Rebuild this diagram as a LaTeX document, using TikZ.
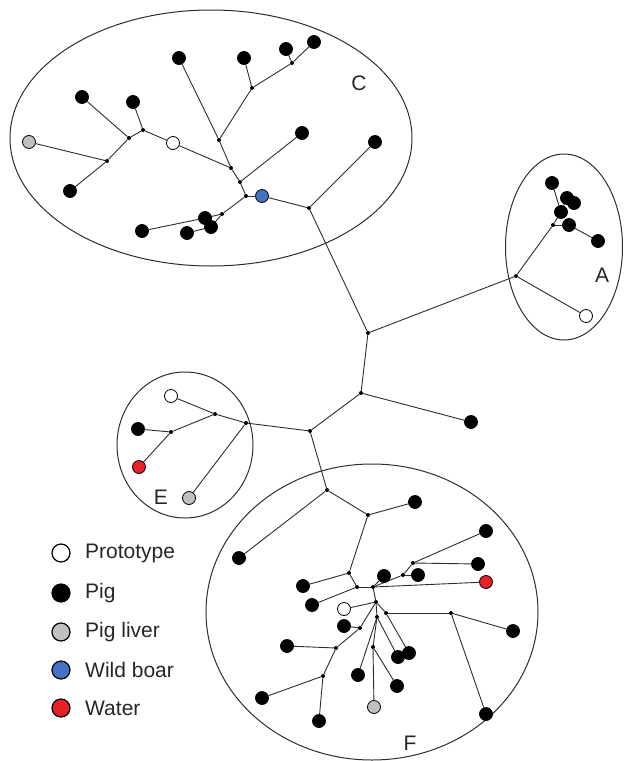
\documentclass[tikz,border=0pt]{standalone}
\usepackage{fontspec}
\setmainfont{Liberation Sans}
\usetikzlibrary{shapes.geometric,backgrounds}
\definecolor{boarblue}{RGB}{68,114,196}
\definecolor{waterred}{RGB}{232,32,40}
\definecolor{livergray}{RGB}{192,192,192}
\definecolor{linegray}{RGB}{45,45,45}
\begin{document}
\begin{tikzpicture}[x=1pt,y=-1pt,
  leaf/.style={circle,draw=black,line width=0.8pt,inner sep=0pt,minimum size=13pt,fill=black},
  proto/.style={leaf,fill=white},
  liver/.style={leaf,fill=livergray},
  boar/.style={leaf,fill=boarblue},
  water/.style={leaf,fill=waterred},
  hub/.style={circle,fill=black,inner sep=0pt,minimum size=4pt},
  edge/.style={draw=linegray,line width=0.9pt},
  group/.style={draw=linegray,line width=1pt,ellipse,inner sep=0pt},
  tag/.style={font=\fontsize{21}{24}\selectfont,text=black!85,inner sep=0pt},
  keyleaf/.style={leaf,minimum size=18pt,line width=1.2pt}]
\useasboundingbox (0,0) rectangle (624,761);

% cluster outlines
\node[group,minimum width=402pt,minimum height=256pt] (gC) at (211,138) {};
\node[group,minimum width=117pt,minimum height=186pt] (gA) at (564,247) {};
\node[group,minimum width=136pt,minimum height=146pt] (gE) at (185,445) {};
\node[group,minimum width=332pt,minimum height=296pt] (gF) at (372,612) {};

% cluster C
\node[liver] (cg) at (29,142) {};
\node[hub] (c1) at (107,161) {};
\node[leaf] (cb1) at (70,191) {};
\node[hub] (c2) at (129,138) {};
\node[leaf] (cb2) at (82,97) {};
\node[hub] (c3) at (143,130) {};
\node[leaf] (cb3) at (133,102) {};
\node[proto] (cw) at (173,143) {};
\node[hub] (c4) at (231,168) {};
\node[hub] (c5) at (219,140) {};
\node[leaf] (cb4) at (179,58) {};
\node[hub] (c6) at (252,88) {};
\node[leaf] (cb5) at (244,58) {};
\node[hub] (c7) at (292,63) {};
\node[leaf] (cb6) at (286,49) {};
\node[leaf] (cb7) at (314,42) {};
\node[hub] (c8) at (240,182) {};
\node[leaf] (cb8) at (302,133) {};
\node[hub] (c9) at (246,196) {};
\node[boar] (cbl) at (262,196) {};
\node[hub] (c11) at (222,214) {};
\node[leaf] (cb12) at (142,231) {};
\node[leaf] (cb11) at (187,233) {};
\node[leaf] (cb9) at (205,218) {};
\node[leaf] (cb10) at (211,227) {};
\node[hub] (c10) at (309,208) {};
\node[leaf] (cb13) at (375,142) {};

% backbone
\node[hub] (m1) at (368,333) {};
\node[hub] (m2) at (361,393) {};
\node[leaf] (mb) at (471,422) {};
\node[hub] (m3) at (310,431) {};

% cluster A
\node[hub] (a0) at (516,276) {};
\node[hub] (a1) at (553,225) {};
\node[leaf] (ab1) at (552,183) {};
\node[leaf] (ab2) at (567,198) {};
\node[leaf] (ab3) at (574,203) {};
\node[leaf] (ab0) at (561,212) {};
\node[leaf] (ab4) at (569,225) {};
\node[leaf] (ab5) at (598,241) {};
\node[proto] (aw) at (586,316) {};

% cluster E
\node[hub] (e0) at (246,423) {};
\node[hub] (e1) at (215,414) {};
\node[proto] (ew) at (171,396) {};
\node[hub] (e2) at (171,432) {};
\node[leaf] (eb) at (138,429) {};
\node[water] (er) at (139,467) {};
\node[liver] (eg) at (189,498) {};

% cluster F
\node[hub] (f1) at (327,490) {};
\node[leaf] (fb1) at (239,558) {};
\node[hub] (f2) at (368,515) {};
\node[leaf] (fb2) at (415,502) {};
\node[hub] (f3) at (349,573) {};
\node[leaf] (fb3) at (303,586) {};
\node[hub] (f4) at (357,587) {};
\node[leaf] (fb4) at (312,605) {};
\node[hub] (f5) at (373,587) {};
\node[leaf] (fb5) at (384,576) {};
\node[hub] (f6) at (403,575) {};
\node[leaf] (fb6) at (418,575) {};
\node[hub] (f7) at (413,563) {};
\node[leaf] (fb7) at (486,531) {};
\node[leaf] (fb8) at (478,564) {};
\node[water] (fr) at (486,582) {};
\node[hub] (f8) at (376,602) {};
\node[proto] (fw) at (344,609) {};
\node[hub] (f9) at (386,613) {};
\node[hub] (f10) at (451,613) {};
\node[leaf] (fb9) at (513,631) {};
\node[leaf] (fb10) at (486,714) {};
\node[leaf] (fb11) at (409,653) {};
\node[hub] (f11) at (377,617) {};
\node[leaf] (fb12) at (398,657) {};
\node[hub] (f12) at (373,647) {};
\node[liver] (fg) at (374,707) {};
\node[leaf] (fb13) at (397,686) {};
\node[leaf] (fb14) at (358,675) {};
\node[hub] (f13) at (360,628) {};
\node[leaf] (fb15) at (344,626) {};
\node[hub] (f14) at (336,648) {};
\node[leaf] (fb16) at (287,646) {};
\node[hub] (f15) at (323,676) {};
\node[leaf] (fb17) at (262,698) {};
\node[leaf] (fb18) at (319,721) {};

% branches
\begin{scope}[on background layer]
\foreach \p/\q in {cg/c1,cb1/c1,c1/c2,cb2/c2,c2/c3,cb3/c3,c3/cw,cw/c4,c5/c4,cb4/c5,c5/c6,
  cb5/c6,c6/c7,c7/cb6,c7/cb7,c4/c8,c8/cb8,c8/c9,c9/c11,c9/cbl,cbl/c10,c11/cb9,c11/cb10,
  cb9/cb12,cb10/cb11,c10/cb13,c10/m1,m1/a0,m1/m2,m2/mb,m2/m3,
  a0/a1,a1/ab0,ab0/ab1,ab0/ab2,ab2/ab3,a1/ab4,ab4/ab5,a0/aw,
  m3/e0,e0/e1,e1/ew,e1/e2,e2/eb,e2/er,e0/eg,
  m3/f1,f1/fb1,f1/f2,f2/fb2,f2/f3,f3/fb3,f3/f4,f4/fb4,f4/f5,f5/fb5,f5/f6,f6/fb6,f6/f7,
  f7/fb7,f7/fb8,f5/fr,f5/f8,f8/fw,f8/f9,f9/f10,f10/fb9,f10/fb10,f9/fb11,f8/f11,f11/fb12,
  f11/f12,f12/fg,f12/fb13,f11/fb14,f8/f13,f13/fb15,f13/f14,f14/fb16,f14/f15,f15/fb17,
  f15/fb18}
  \draw[edge] (\p) -- (\q);
\end{scope}

% cluster labels
\node[tag] (tC) at (359,83) {C};
\node[tag] (tA) at (602,275) {A};
\node[tag] (tE) at (161,497) {E};
\node[tag] (tF) at (410,743) {F};

% key
\node[keyleaf,fill=white] (k1) at (61,553) {};
\node[keyleaf] (k2) at (61,593) {};
\node[keyleaf,fill=livergray] (k3) at (61,632) {};
\node[keyleaf,fill=boarblue] (k4) at (61,670) {};
\node[keyleaf,fill=waterred] (k5) at (61,708) {};
\node[tag,anchor=west] (l1) at (85,553) {Prototype};
\node[tag,anchor=west] (l2) at (85,593) {Pig};
\node[tag,anchor=west] (l3) at (85,632) {Pig liver};
\node[tag,anchor=west] (l4) at (85,670) {Wild boar};
\node[tag,anchor=west] (l5) at (85,708) {Water};
\end{tikzpicture}
\end{document}
